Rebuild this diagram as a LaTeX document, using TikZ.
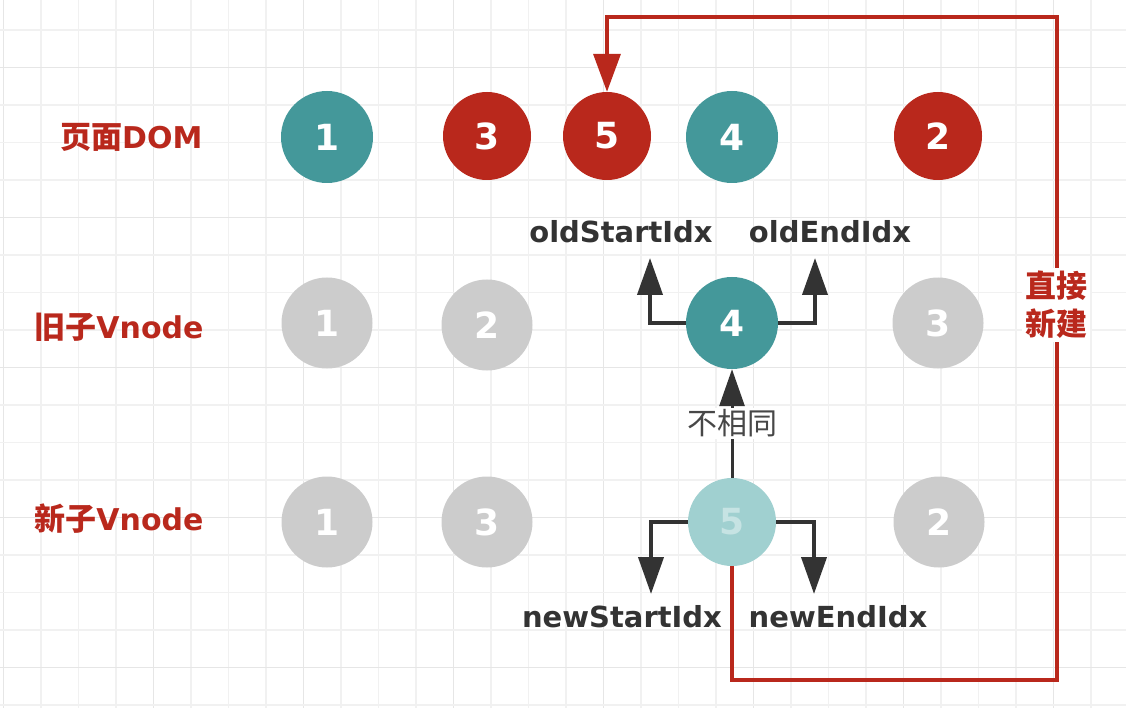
\documentclass[tikz,border=0pt]{standalone}
\usepackage{fontspec}
\setmainfont{DejaVu Sans}
\newfontfamily\cjk{Noto Sans CJK SC}
\usetikzlibrary{arrows.meta}
\definecolor{teal1}{HTML}{44989A}
\definecolor{red1}{HTML}{B9281C}
\definecolor{gray1}{HTML}{CCCCCC}
\definecolor{lteal}{HTML}{A0D0D0}
\definecolor{ltealtxt}{HTML}{C6E3E3}
\definecolor{dark}{HTML}{333333}
\definecolor{gridminor}{HTML}{F1F1F1}
\definecolor{gridmajor}{HTML}{E6E6E6}
\begin{document}
\begin{tikzpicture}[x=1pt,y=-1pt,
  ball/.style={circle,inner sep=0pt,text=white,font=\fontsize{36}{36}\selectfont\bfseries},
  tealball/.style={ball,fill=teal1,minimum size=92pt},
  redball/.style={ball,fill=red1,minimum size=88pt},
  grayball/.style={ball,fill=gray1,minimum size=91pt},
  lightball/.style={ball,fill=lteal,text=ltealtxt,minimum size=88pt},
  rowlabel/.style={anchor=east,text=red1,font=\fontsize{30}{30}\selectfont\bfseries},
  idxlabel/.style={text=dark,font=\fontsize{29}{29}\selectfont\bfseries},
  darr/.style={draw=dark,line width=4pt,-{Triangle[length=37pt,width=25pt]}},
  rarr/.style={draw=red1,line width=3.5pt,-{Triangle[length=38pt,width=27pt]}}
]
\useasboundingbox (0,0) rectangle (1126,708);
\fill[white] (0,0) rectangle (1126,708);
% grid
\foreach \i in {0,...,30}{
  \pgfmathsetmacro{\xx}{3.3+37.5*\i}
  \pgfmathtruncatemacro{\m}{mod(\i,4)}
  \ifnum\m=0
    \draw[gridmajor,line width=1.5pt] (\xx,0) -- (\xx,708);
  \else
    \draw[gridminor,line width=1.5pt] (\xx,0) -- (\xx,708);
  \fi
}
\foreach \j in {1,...,19}{
  \pgfmathsetmacro{\yy}{-7.7+37.5*\j}
  \pgfmathtruncatemacro{\m}{mod(\j,4)}
  \ifnum\m=2
    \draw[gridmajor,line width=1.5pt] (0,\yy) -- (1126,\yy);
  \else
    \draw[gridminor,line width=1.5pt] (0,\yy) -- (1126,\yy);
  \fi
}
% row labels
\node[rowlabel] (lbldom) at (206,137) {{\cjk\fontsize{31}{31}\selectfont 页面}DOM};
\node[rowlabel] (lblold) at (207,327) {{\cjk\fontsize{31}{31}\selectfont 旧子}Vnode};
\node[rowlabel] (lblnew) at (207,519) {{\cjk\fontsize{31}{31}\selectfont 新子}Vnode};
% DOM row
\node[tealball] (dom1) at (327,137) {1};
\node[redball]  (dom3) at (487,136) {3};
\node[redball]  (dom5) at (607,136) {5};
\node[tealball] (dom4) at (732,137) {4};
\node[redball]  (dom2) at (938,136) {2};
% old row
\node[grayball] (old1) at (327,323) {1};
\node[grayball] (old2) at (487,325) {2};
\node[tealball] (old4) at (732,323) {4};
\node[grayball] (old3) at (938,323) {3};
% new row
\node[grayball]  (new1) at (327,522) {1};
\node[grayball]  (new3) at (487,522) {3};
\node[lightball] (new5) at (732,522) {5};
\node[grayball]  (new2) at (939,522) {2};
% index labels
\node[idxlabel] (osl) at (621,232) {oldStartIdx};
\node[idxlabel] (oel) at (830,232) {oldEndIdx};
\node[idxlabel] (nsl) at (622,617) {newStartIdx};
\node[idxlabel] (nel) at (838,617) {newEndIdx};
% index arrows
\coordinate (ost) at (650,258);
\coordinate (oet) at (815,258);
\coordinate (nst) at (651,594);
\coordinate (net) at (814,594);
\draw[darr] (old4.west) -| (ost);
\draw[darr] (old4.east) -| (oet);
\draw[darr] (new5.west) -| (nst);
\draw[darr] (new5.east) -| (net);
% compare arrow
\draw[darr,line width=3pt] (new5.north) -- (old4.south)
  node[pos=0.5,fill=white,inner sep=2pt,text=dark!90,font=\cjk\fontsize{30}{30}\selectfont] (diff) {不相同};
% red path
\coordinate (rb) at (1057,680);
\coordinate (rt) at (1057,17);
\draw[rarr] (new5.south) |- (rb) -- (rt) -| (dom5.north);
\node[fill=white,text=red1,align=center,inner sep=3pt,font=\cjk\bfseries\fontsize{31}{38}\selectfont] (direct) at (1056,305) {直接\\新建};
\end{tikzpicture}
\end{document}
